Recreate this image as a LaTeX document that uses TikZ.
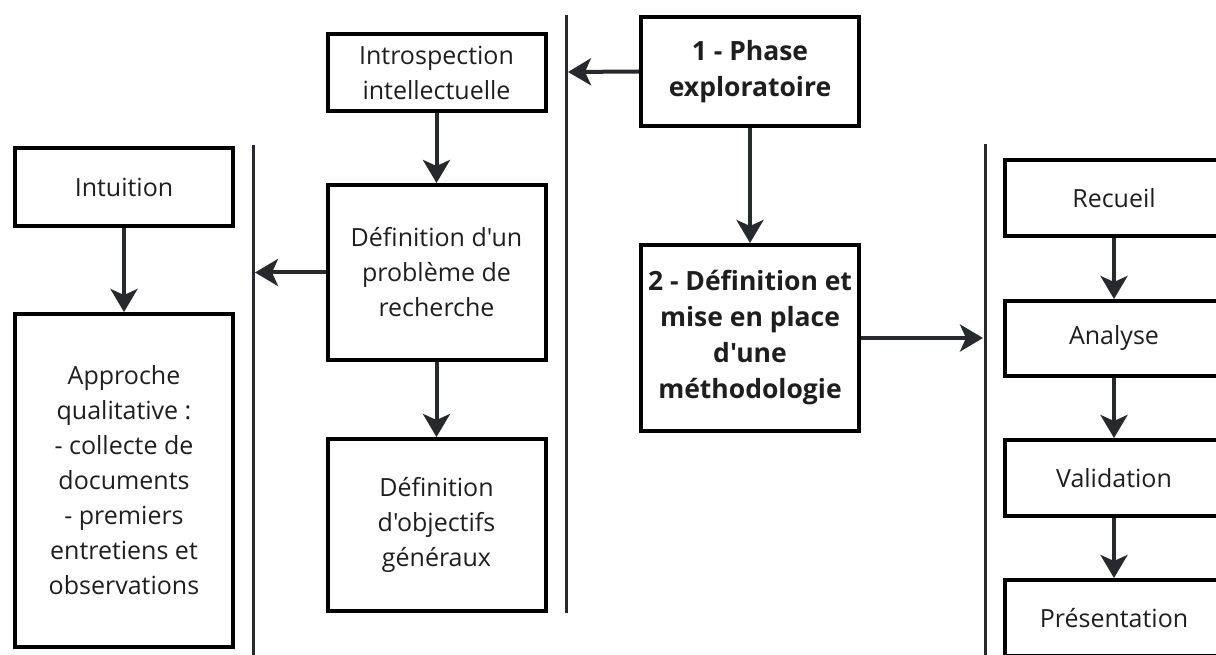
\documentclass[tikz,border=0pt]{standalone}
\usepackage{fontspec}
\setmainfont{Open Sans}[Ligatures=TeXOff]
\usetikzlibrary{arrows.meta, positioning}
\definecolor{inkgray}{HTML}{27292C}
\definecolor{txtdark}{HTML}{1E1E1E}

\begin{document}
\begin{tikzpicture}[
  x=1pt, y=-1pt,
  >={Stealth[length=23pt, width=27pt, inset=6pt]},
  every node/.style={text=txtdark, font=\fontsize{25}{35}\selectfont},
  etape/.style={draw=black, line width=4pt, minimum width=218pt, align=center, inner sep=0pt},
  phase/.style={etape, font=\fontsize{26.5}{36}\selectfont\bfseries},
  fleche/.style={->, inkgray, line width=4pt},
  trait/.style={inkgray, line width=3pt},
]

% Canvas
\useasboundingbox (0,0) rectangle (1216,655);
\clip (0,0) rectangle (1216,655);

% Separating lines
\coordinate (gaucheHaut) at (253,145);
\coordinate (gaucheBas) at (253,655);
\coordinate (milieuHaut) at (566,15);
\coordinate (milieuBas) at (566,613);
\coordinate (droiteHaut) at (985,144);
\coordinate (droiteBas) at (985,655);
\draw[trait] (gaucheHaut) -- (gaucheBas);
\draw[trait] (milieuHaut) -- (milieuBas);
\draw[trait] (droiteHaut) -- (droiteBas);

% Left column
\node[etape, minimum height=78pt] (intuition) at (124,187) {Intuition};
\node[etape, minimum height=333pt] (approche) at (124,480.5)
  {Approche\\qualitative :\\- collecte de\\documents\\- premiers\\entretiens et\\observations};

% Middle column
\node[etape, minimum height=77pt] (introspection) at (436.5,72.5) {Introspection\\intellectuelle};
\node[etape, minimum height=175pt] (probleme) at (436.5,272.5) {Définition d'un\\problème de\\recherche};
\node[etape, minimum height=172pt] (objectifs) at (436.5,525) {Définition\\d'objectifs\\généraux};

% Phases
\node[phase, minimum height=109pt] (exploratoire) at (750,71.5) {1 - Phase\\exploratoire};
\node[phase, minimum height=186pt] (methodo) at (750,338) {2 - Définition et\\mise en place\\d'une\\méthodologie};

% Right column
\node[etape, minimum height=76pt] (recueil) at (1114,198) {Recueil};
\node[etape, minimum height=75pt] (analyse) at (1114,338.5) {Analyse};
\node[etape, minimum height=76pt] (validation) at (1114,478) {Validation};
\node[etape, minimum height=76pt] (presentation) at (1114,618) {Présentation};

% Arrows to the lines
\coordinate (versGauche) at (255,272.5);
\coordinate (versMilieu) at (568,72);
\coordinate (versDroite) at (983,338);
\draw[fleche] (probleme.west) -- (versGauche);
\draw[fleche] (exploratoire.west) -- (versMilieu);
\draw[fleche] (methodo.east) -- (versDroite);

% Arrows between boxes
\draw[fleche] (intuition.south) -- (approche.north);
\draw[fleche] (introspection.south) -- (probleme.north);
\draw[fleche] (probleme.south) -- (objectifs.north);
\draw[fleche] (exploratoire.south) -- (methodo.north);
\draw[fleche] (recueil.south) -- (analyse.north);
\draw[fleche] (analyse.south) -- (validation.north);
\draw[fleche] (validation.south) -- (presentation.north);

\end{tikzpicture}
\end{document}
